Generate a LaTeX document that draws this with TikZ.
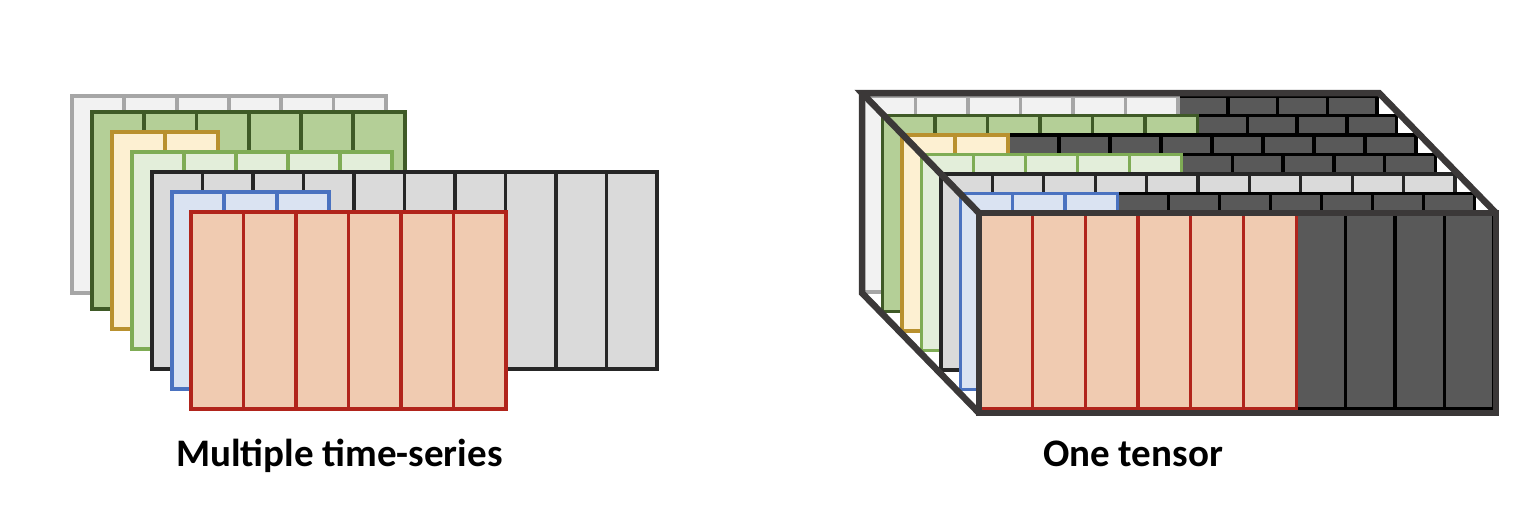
\documentclass[tikz,border=0pt]{standalone}
\usepackage{fontspec}
\setmainfont{Carlito}

\definecolor{fillA}{HTML}{F2F2F2}\definecolor{lineA}{HTML}{A6A6A6}
\definecolor{fillB}{HTML}{B4CF97}\definecolor{lineB}{HTML}{3F5A27}
\definecolor{fillC}{HTML}{FDF0D2}\definecolor{lineC}{HTML}{B9912F}
\definecolor{fillD}{HTML}{E3EEDA}\definecolor{lineD}{HTML}{7FAC55}
\definecolor{fillE}{HTML}{DADADA}\definecolor{lineE}{HTML}{262626}
\definecolor{fillF}{HTML}{DAE3F2}\definecolor{lineF}{HTML}{4A72C0}
\definecolor{fillG}{HTML}{F0CBB1}\definecolor{lineG}{HTML}{B1241B}
\definecolor{padfill}{HTML}{595959}
\definecolor{boxline}{HTML}{3B3838}

\tikzset{
  caption/.style={font=\fontsize{39}{44}\selectfont\bfseries, anchor=base, inner sep=0pt},
  tensorbox/.style={draw=boxline, line width=6.5, line join=miter}
}

\begin{document}
\begin{tikzpicture}[x=1pt, y=-1pt]
  \useasboundingbox (0,0) rectangle (1534,506);
  % left: one frame per series, back to front
  \foreach \x/\y/\n/\cw/\c in {72/96/6/52.3/A, 92/112/6/52.2/B, 112/132/2/53/C, 132/152/5/52/D,
                               152/172/10/50.5/E, 172/192/3/52.3/F, 191/212/6/52.5/G} {
    \filldraw[fill=fill\c, draw=line\c, line width=3.8] (\x,\y) rectangle ++(\n*\cw,197);
    \foreach \i in {2,...,\n}
      \draw[line\c, line width=3.8] (\x+\i*\cw-\cw,\y) -- ++(0,197);
  }
  % right: same frames padded to one length
  \foreach \k/\n/\cw/\c in {0/6/52.5/A, 1/6/52.5/B, 2/2/53/C, 3/5/52/D, 4/10/51.4/E, 5/3/52.3/F, 6/6/52.7/G} {
    \pgfmathsetmacro\lx{863+19.5*\k}
    \pgfmathsetmacro\ly{96+19.5*\k}
    \ifnum\n<10
      \pgfmathsetmacro\px{\lx+\n*\cw}
      \pgfmathsetmacro\pw{(514-\n*\cw)/(10-\n)}
      \pgfmathtruncatemacro\m{9-\n}
      \filldraw[fill=padfill, draw=black, line width=3.5] (\px,\ly) rectangle (\lx+514,\ly+196);
      \ifnum\m>0
        \foreach \j in {1,...,\m}
          \draw[black, line width=3.5] (\px+\j*\pw,\ly) -- ++(0,196);
      \fi
    \fi
    \filldraw[fill=fill\c, draw=line\c, line width=3.3] (\lx,\ly) rectangle ++(\n*\cw,196);
    \foreach \i in {2,...,\n}
      \draw[line\c, line width=3.3] (\lx+\i*\cw-\cw,\ly) -- ++(0,196);
  }
  % box edges
  \coordinate (backTL) at (862,93);
  \coordinate (backTR) at (1379,93);
  \coordinate (backBL) at (862,293);
  \coordinate (frontTL) at (979,213);
  \coordinate (frontTR) at (1496,213);
  \coordinate (frontBR) at (1496,413);
  \coordinate (frontBL) at (979,413);
  \draw[tensorbox] (frontTL) -- (backTL) -- (backTR) -- (frontTR);
  \draw[tensorbox] (backTL) -- (backBL) -- (frontBL);
  \draw[tensorbox] (frontTL) rectangle (frontBR);

  \node[caption] (stackLabel) at (339.5,466) {Multiple time-series};
  \node[caption] (tensorLabel) at (1133,466) {One tensor};
\end{tikzpicture}
\end{document}
